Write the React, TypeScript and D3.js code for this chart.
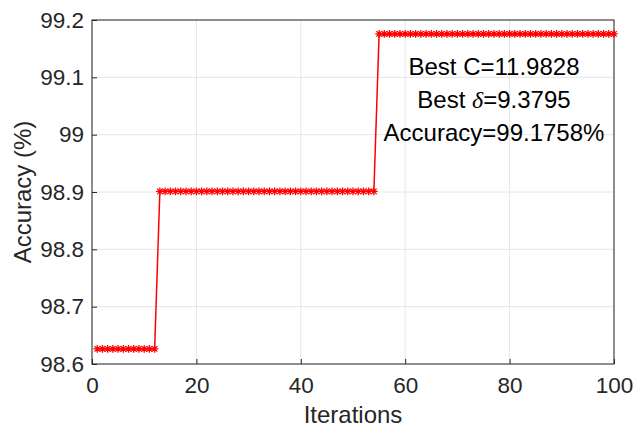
import { useEffect, useRef } from 'react';
import * as d3 from 'd3';

const iterations = d3.range(1, 101);
const accuracy = [
  98.6264, 98.6264, 98.6264, 98.6264, 98.6264, 98.6264, 98.6264, 98.6264, 98.6264, 98.6264,
  98.6264, 98.6264, 98.9011, 98.9011, 98.9011, 98.9011, 98.9011, 98.9011, 98.9011, 98.9011,
  98.9011, 98.9011, 98.9011, 98.9011, 98.9011, 98.9011, 98.9011, 98.9011, 98.9011, 98.9011,
  98.9011, 98.9011, 98.9011, 98.9011, 98.9011, 98.9011, 98.9011, 98.9011, 98.9011, 98.9011,
  98.9011, 98.9011, 98.9011, 98.9011, 98.9011, 98.9011, 98.9011, 98.9011, 98.9011, 98.9011,
  98.9011, 98.9011, 98.9011, 98.9011, 99.1758, 99.1758, 99.1758, 99.1758, 99.1758, 99.1758,
  99.1758, 99.1758, 99.1758, 99.1758, 99.1758, 99.1758, 99.1758, 99.1758, 99.1758, 99.1758,
  99.1758, 99.1758, 99.1758, 99.1758, 99.1758, 99.1758, 99.1758, 99.1758, 99.1758, 99.1758,
  99.1758, 99.1758, 99.1758, 99.1758, 99.1758, 99.1758, 99.1758, 99.1758, 99.1758, 99.1758,
  99.1758, 99.1758, 99.1758, 99.1758, 99.1758, 99.1758, 99.1758, 99.1758, 99.1758, 99.1758,
];
const xTicks = [0, 20, 40, 60, 80, 100];
const yTicks = [98.6, 98.7, 98.8, 98.9, 99, 99.1, 99.2];
const noteLines = ['Best C=11.9828', 'Best δ=9.3795', 'Accuracy=99.1758%'];

export default function App() {
  const svgRef = useRef<SVGSVGElement>(null);

  useEffect(() => {
    if (!svgRef.current) return;
    const svg = d3.select(svgRef.current);
    svg.selectAll('*').remove();

    const width = 633;
    const height = 429;
    const margin = { top: 20, right: 19, bottom: 65, left: 92 };
    const font = 'Liberation Sans, Arial, sans-serif';

    const x = d3.scaleLinear().domain([0, 100]).range([margin.left, width - margin.right]);
    const y = d3.scaleLinear().domain([98.6, 99.2]).range([height - margin.bottom, margin.top]);

    svg.append('rect').attr('width', width).attr('height', height).attr('fill', '#fff');

    // grid
    const grid = svg.append('g').attr('stroke', '#e6e6e6').attr('stroke-width', 1);
    grid.selectAll('line.gx').data(xTicks).join('line')
      .attr('x1', d => x(d)).attr('x2', d => x(d))
      .attr('y1', y(98.6)).attr('y2', y(99.2));
    grid.selectAll('line.gy').data(yTicks).join('line')
      .attr('x1', x(0)).attr('x2', x(100))
      .attr('y1', d => y(d)).attr('y2', d => y(d));

    // box
    svg.append('rect')
      .attr('x', x(0)).attr('y', y(99.2))
      .attr('width', x(100) - x(0)).attr('height', y(98.6) - y(99.2))
      .attr('fill', 'none').attr('stroke', '#262626').attr('stroke-width', 1);

    // axes
    svg.append('g')
      .attr('transform', `translate(0,${y(98.6)})`)
      .call(d3.axisBottom(x).tickValues(xTicks).tickSizeInner(-5).tickSizeOuter(0).tickPadding(13))
      .call(g => g.select('.domain').remove())
      .call(g => g.selectAll('line').attr('stroke', '#262626'))
      .call(g => g.selectAll('text').attr('font-size', 22.5).attr('font-family', font).attr('fill', '#262626'));

    svg.append('g')
      .attr('transform', `translate(${x(0)},0)`)
      .call(d3.axisLeft(y).tickValues(yTicks).tickFormat(d => String(d)).tickSizeInner(-5).tickSizeOuter(0).tickPadding(8))
      .call(g => g.select('.domain').remove())
      .call(g => g.selectAll('line').attr('stroke', '#262626'))
      .call(g => g.selectAll('text').attr('font-size', 22.5).attr('font-family', font).attr('fill', '#262626'));

    // line
    const pts = iterations.map((it, i) => [it, accuracy[i]] as [number, number]);
    svg.append('path')
      .datum(pts)
      .attr('fill', 'none')
      .attr('stroke', '#ff0000')
      .attr('stroke-width', 1.5)
      .attr('d', d3.line<[number, number]>().x(d => x(d[0])).y(d => y(d[1])));

    // asterisk markers
    const r = 3.8;
    const rd = r * 0.72;
    const star = `M${-r},0H${r}M0,${-r}V${r}M${-rd},${-rd}L${rd},${rd}M${-rd},${rd}L${rd},${-rd}`;
    svg.append('g')
      .selectAll('path')
      .data(pts)
      .join('path')
      .attr('transform', d => `translate(${x(d[0])},${y(d[1])})`)
      .attr('d', star)
      .attr('fill', 'none')
      .attr('stroke', '#ff0000')
      .attr('stroke-width', 1.3);

    // annotation
    const note = svg.append('text')
      .attr('font-family', font)
      .attr('font-size', 24)
      .attr('fill', '#000')
      .attr('text-anchor', 'middle');
    noteLines.forEach((t, i) => {
      const ts = note.append('tspan').attr('x', 494).attr('y', 75 + i * 33);
      if (t.includes('δ')) {
        const [a, b] = t.split('δ');
        ts.append('tspan').text(a);
        ts.append('tspan').attr('font-style', 'italic').attr('font-family', 'Liberation Serif, serif').text('δ');
        ts.append('tspan').text(b);
      } else {
        ts.text(t);
      }
    });

    // axis titles
    svg.append('text')
      .attr('x', (x(0) + x(100)) / 2)
      .attr('y', 423)
      .attr('text-anchor', 'middle')
      .attr('font-family', font)
      .attr('font-size', 24)
      .attr('fill', '#262626')
      .text('Iterations');

    svg.append('text')
      .attr('transform', `translate(31,${(y(98.6) + y(99.2)) / 2}) rotate(-90)`)
      .attr('text-anchor', 'middle')
      .attr('font-family', font)
      .attr('font-size', 24)
      .attr('fill', '#262626')
      .text('Accuracy (%)');
  }, []);

  return (
    <svg ref={svgRef} width={633} height={429} style={{ position: 'absolute', left: 0, top: 0 }} />
  );
}
